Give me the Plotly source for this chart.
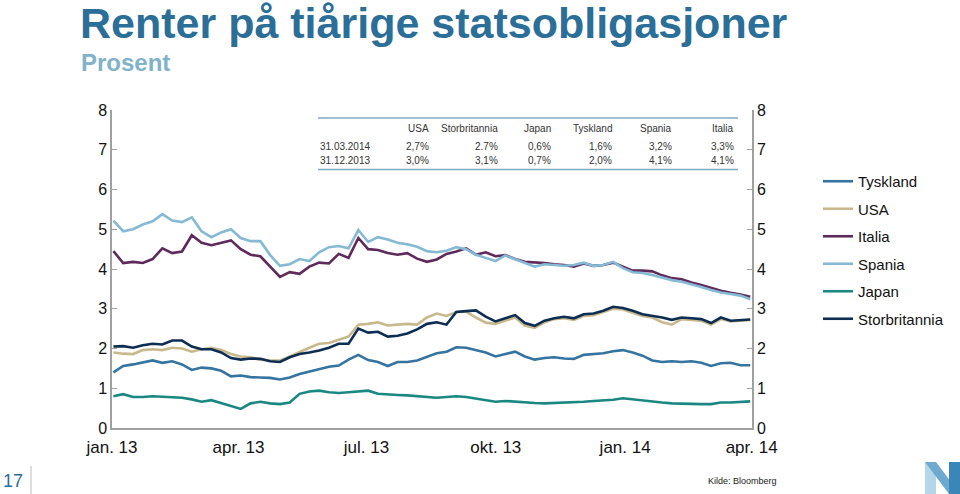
import pandas as pd
import plotly.graph_objects as go

# ---------------- data ----------------
dates = pd.date_range("2013-01-02", "2014-03-31", periods=66)

tyskland = [1.40, 1.56, 1.60, 1.65, 1.70, 1.64, 1.68, 1.60, 1.46, 1.52, 1.50, 1.44, 1.30, 1.32, 1.28, 1.27,
            1.26, 1.22, 1.27, 1.36, 1.42, 1.48, 1.54, 1.57, 1.72, 1.84, 1.71, 1.66, 1.56, 1.66, 1.66, 1.70,
            1.80, 1.88, 1.92, 2.03, 2.02, 1.96, 1.90, 1.80, 1.86, 1.92, 1.80, 1.72, 1.76, 1.78, 1.75, 1.74,
            1.84, 1.86, 1.88, 1.93, 1.96, 1.90, 1.82, 1.70, 1.66, 1.68, 1.66, 1.68, 1.64, 1.56, 1.63, 1.64,
            1.58, 1.58]
usa = [1.90, 1.87, 1.86, 1.96, 1.98, 1.96, 2.02, 2.00, 1.92, 1.98, 2.02, 1.96, 1.86, 1.80, 1.78, 1.72,
       1.70, 1.70, 1.80, 1.90, 2.02, 2.12, 2.14, 2.22, 2.30, 2.60, 2.62, 2.66, 2.58, 2.60, 2.62, 2.60,
       2.78, 2.88, 2.82, 2.92, 2.93, 2.78, 2.65, 2.62, 2.70, 2.78, 2.58, 2.52, 2.66, 2.74, 2.76, 2.72,
       2.82, 2.84, 2.92, 3.00, 2.98, 2.90, 2.82, 2.78, 2.66, 2.60, 2.74, 2.72, 2.70, 2.60, 2.74, 2.68,
       2.70, 2.72]
italia = [4.45, 4.15, 4.18, 4.15, 4.25, 4.52, 4.40, 4.44, 4.85, 4.66, 4.60, 4.66, 4.72, 4.50, 4.36, 4.32,
          4.05, 3.80, 3.92, 3.88, 4.06, 4.16, 4.14, 4.38, 4.28, 4.78, 4.50, 4.48, 4.40, 4.36, 4.40, 4.26,
          4.18, 4.24, 4.38, 4.44, 4.52, 4.36, 4.42, 4.32, 4.35, 4.25, 4.18, 4.17, 4.15, 4.12, 4.10, 4.06,
          4.14, 4.08, 4.10, 4.16, 4.06, 3.96, 3.96, 3.94, 3.84, 3.77, 3.74, 3.66, 3.60, 3.52, 3.45, 3.40,
          3.36, 3.30]
spania = [5.22, 4.95, 5.00, 5.12, 5.20, 5.38, 5.22, 5.18, 5.30, 4.95, 4.80, 4.92, 5.00, 4.78, 4.70, 4.70,
          4.35, 4.08, 4.12, 4.25, 4.20, 4.42, 4.55, 4.58, 4.52, 4.98, 4.68, 4.80, 4.74, 4.66, 4.62, 4.56,
          4.45, 4.42, 4.46, 4.55, 4.50, 4.36, 4.28, 4.20, 4.34, 4.24, 4.16, 4.06, 4.12, 4.10, 4.08, 4.10,
          4.16, 4.08, 4.10, 4.18, 4.02, 3.92, 3.90, 3.85, 3.78, 3.72, 3.68, 3.62, 3.55, 3.47, 3.41, 3.37,
          3.33, 3.24]
japan = [0.80, 0.85, 0.78, 0.78, 0.80, 0.79, 0.77, 0.76, 0.72, 0.66, 0.70, 0.63, 0.56, 0.48, 0.62, 0.66,
         0.62, 0.60, 0.64, 0.86, 0.92, 0.94, 0.90, 0.88, 0.90, 0.92, 0.94, 0.86, 0.84, 0.83, 0.82, 0.80,
         0.78, 0.76, 0.78, 0.80, 0.78, 0.74, 0.70, 0.66, 0.68, 0.66, 0.65, 0.63, 0.62, 0.63, 0.64, 0.64,
         0.66, 0.68, 0.70, 0.71, 0.75, 0.72, 0.70, 0.66, 0.64, 0.62, 0.61, 0.60, 0.60, 0.60, 0.64, 0.64,
         0.65, 0.67]
storbritannia = [2.05, 2.06, 2.02, 2.08, 2.12, 2.10, 2.20, 2.20, 2.05, 1.98, 1.98, 1.90, 1.76, 1.72, 1.75, 1.74,
                 1.68, 1.66, 1.78, 1.86, 1.90, 1.95, 2.02, 2.12, 2.12, 2.50, 2.40, 2.42, 2.30, 2.32, 2.38, 2.48,
                 2.62, 2.66, 2.60, 2.92, 2.94, 2.96, 2.80, 2.68, 2.76, 2.84, 2.64, 2.57, 2.70, 2.76, 2.80, 2.76,
                 2.86, 2.88, 2.95, 3.05, 3.02, 2.95, 2.86, 2.82, 2.78, 2.72, 2.78, 2.76, 2.74, 2.64, 2.78, 2.70,
                 2.72, 2.73]

series_names = ["Tyskland", "USA", "Italia", "Spania", "Japan", "Storbritannia"]
series_values = [tyskland, usa, italia, spania, japan, storbritannia]
series_colors = ["#3574a0", "#c8b98c", "#5e2a5c", "#86b9d3", "#1a8782", "#0e2d52"]

x_tick_dates = ["2013-01-01", "2013-04-01", "2013-07-01", "2013-10-01", "2014-01-01", "2014-04-01"]
x_tick_labels = ["jan. 13", "apr. 13", "jul. 13", "okt. 13", "jan. 14", "apr. 14"]

table_header = ["USA", "Storbritannia", "Japan", "Tyskland", "Spania", "Italia"]
table_rows = ["31.03.2014", "31.12.2013"]
table_2014 = ["2,7%", "2.7%", "0,6%", "1,6%", "3,2%", "3,3%"]
table_2013 = ["3,0%", "3,1%", "0,7%", "2,0%", "4,1%", "4,1%"]

title = "Renter på tiårige statsobligasjoner"
subtitle = "Prosent"
source = "Kilde: Bloomberg"
page_no = "17"

# ---------------- layout helpers (pixel -> paper) ----------------
W, H = 960, 494
L, R, T, B = 112, 752, 110, 428


def px(x):
    return (x - L) / (R - L)


def py(y):
    return (B - y) / (B - T)


FONT = "Liberation Sans, Arial, sans-serif"
AXIS_GRAY = "#a0a0a0"

fig = go.Figure()
for name, vals, col in zip(series_names, series_values, series_colors):
    fig.add_trace(go.Scatter(
        x=dates, y=vals, name=name, mode="lines",
        line=dict(color=col, width=2.6),
        legendgroup=name,
    ))
# invisible trace on the right axis so it is drawn
fig.add_trace(go.Scatter(x=dates[:1], y=[None], yaxis="y2", showlegend=False,
                         hoverinfo="skip", mode="lines"))

yaxis_common = dict(
    range=[0, 8], dtick=1, tick0=0, showgrid=False, zeroline=False,
    showline=True, linecolor=AXIS_GRAY, linewidth=1.5,
    ticks="inside", ticklen=5, tickcolor=AXIS_GRAY, tickwidth=1,
    tickfont=dict(family=FONT, size=16, color="#111"),
)

fig.update_layout(
    width=W, height=H,
    margin=dict(l=L, r=W - R, t=T, b=H - B, autoexpand=False),
    paper_bgcolor="white", plot_bgcolor="white",
    font=dict(family=FONT),
    showlegend=True,
    legend=dict(
        x=px(818), y=py(165), xanchor="left", yanchor="top",
        font=dict(family=FONT, size=15, color="#111"),
        tracegroupgap=5, bgcolor="rgba(0,0,0,0)",
        traceorder="grouped",
    ),
    xaxis=dict(
        type="date", range=["2013-01-01", "2014-04-01 06:00"],
        tickvals=x_tick_dates, ticktext=x_tick_labels,
        showgrid=False, zeroline=False, showline=True,
        linecolor=AXIS_GRAY, linewidth=1.5, ticks="",
        ticklabelstandoff=3,
        tickfont=dict(family=FONT, size=17, color="#111"),
    ),
    yaxis=dict(**yaxis_common),
    yaxis2=dict(**yaxis_common, overlaying="y", side="right", anchor="x"),
)

ann = []
# title / subtitle
ann.append(dict(text=title, x=px(78), y=py(23), xanchor="left", yanchor="middle",
                font=dict(family=FONT, size=43, color="#2b6e97", weight="bold")))
ann.append(dict(text=subtitle, x=px(79), y=py(62), xanchor="left", yanchor="middle",
                font=dict(family=FONT, size=24, color="#80b2ca", weight="bold")))

# table
col_right = [431, 500, 553, 614, 674, 736]
tfont = dict(family=FONT, size=10, color="#333")
for h, xr in zip(table_header, col_right):
    ann.append(dict(text=h, x=px(xr), y=py(128), xanchor="right", yanchor="middle", font=tfont))
for row_label, vals, yy in zip(table_rows, [table_2014, table_2013], [146, 160]):
    ann.append(dict(text=row_label, x=px(318), y=py(yy), xanchor="left", yanchor="middle", font=tfont))
    for v, xr in zip(vals, col_right):
        ann.append(dict(text=v, x=px(xr), y=py(yy), xanchor="right", yanchor="middle", font=tfont))

# footer
ann.append(dict(text=page_no, x=px(1), y=py(481), xanchor="left", yanchor="middle",
                font=dict(family=FONT, size=18, color="#2b6e97")))
ann.append(dict(text=source, x=px(779), y=py(481), xanchor="right", yanchor="middle",
                font=dict(family=FONT, size=9, color="#222")))

for a in ann:
    a.update(xref="paper", yref="paper", showarrow=False)
fig.update_layout(annotations=ann)

shapes = [
    # table rules
    dict(type="line", x0=px(318), x1=px(738), y0=py(118), y1=py(118),
         line=dict(color="#7eaabf", width=1.5)),
    dict(type="line", x0=px(318), x1=px(738), y0=py(169.5), y1=py(169.5),
         line=dict(color="#7eaabf", width=1.5)),
    # separator by page number
    dict(type="line", x0=px(31), x1=px(31), y0=py(466), y1=py(494),
         line=dict(color="#bbbbbb", width=1)),
    # logo
    dict(type="rect", x0=px(925), x1=px(936), y0=py(494), y1=py(462),
         fillcolor="#b5d5e8", line=dict(width=0)),
    dict(type="path",
         path=f"M {px(925)},{py(462)} L {px(936)},{py(462)} L {px(960)},{py(494)} L {px(949)},{py(494)} Z",
         fillcolor="#6ea9cf", line=dict(width=0)),
    dict(type="rect", x0=px(949), x1=px(960), y0=py(494), y1=py(462),
         fillcolor="#3a86b8", line=dict(width=0)),
]
for s in shapes:
    s.update(xref="paper", yref="paper", layer="above")
fig.update_layout(shapes=shapes)

fig.write_html(
    "out.html",
    config={"displayModeBar": False},
    post_script="document.body.style.margin='0';document.body.style.overflow='hidden';",
)
